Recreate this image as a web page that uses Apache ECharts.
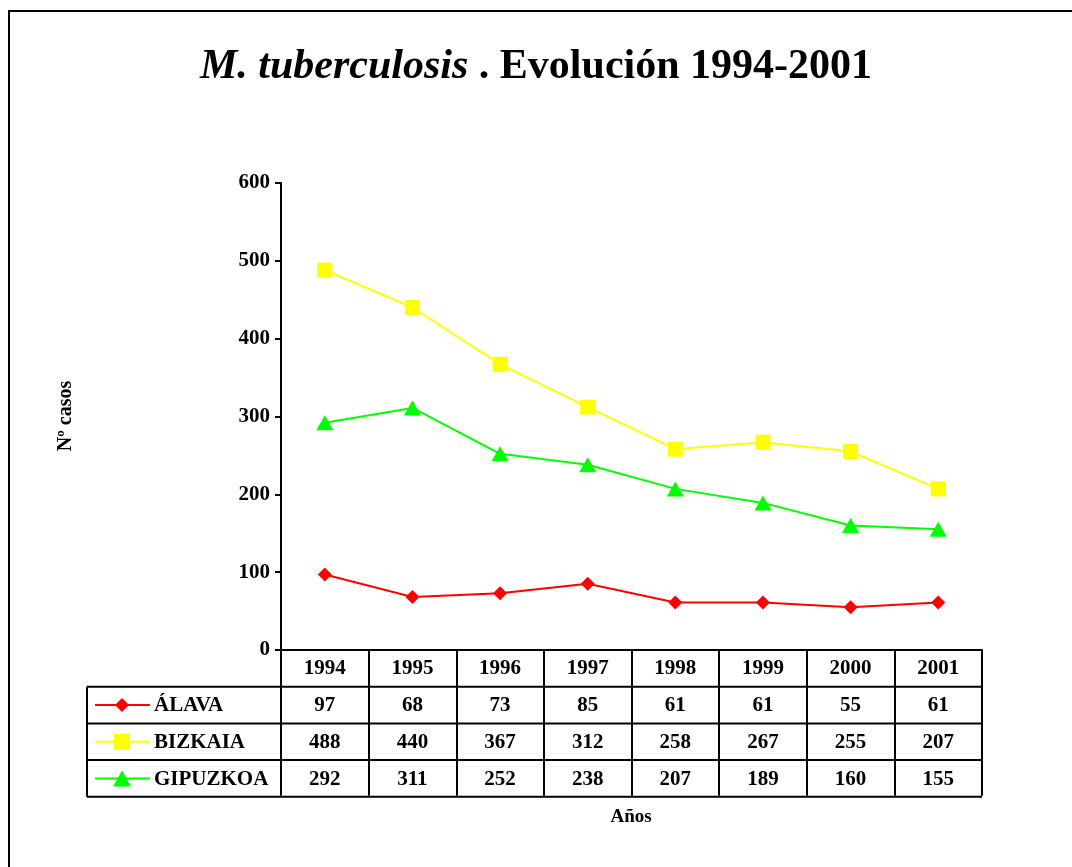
<!DOCTYPE html>
<html>
<head>
<meta charset="utf-8">
<script src="https://cdn.jsdelivr.net/npm/echarts@6/dist/echarts.min.js"></script>
<style>
html, body { margin: 0; padding: 0; background: #fff; }
#main { width: 1072px; height: 867px; }
</style>
</head>
<body>
<div id="main"></div>
<script>
const years = ['1994', '1995', '1996', '1997', '1998', '1999', '2000', '2001']
const alava = [97, 68, 73, 85, 61, 61, 55, 61]
const bizkaia = [488, 440, 367, 312, 258, 267, 255, 207]
const gipuzkoa = [292, 311, 252, 238, 207, 189, 160, 155]
const yMin = 0
const yMax = 600
const yStep = 100

const FONT = 'Liberation Serif'
const rows = [
  { name: 'ÁLAVA', data: alava, color: '#ff0000', symbol: 'diamond', size: [14, 14] },
  { name: 'BIZKAIA', data: bizkaia, color: '#ffff00', symbol: 'rect', size: [15, 15] },
  { name: 'GIPUZKOA', data: gipuzkoa, color: '#00ff00', symbol: 'triangle', size: [17, 15] }
]

const gridLeft = 281
const gridRight = 90
const gridTop = 183
const gridBottom = 217
const tableLeft = 87
const rowH = 36.7

const chart = echarts.init(document.getElementById('main'))
chart.setOption({
  animation: false,
  title: {
    left: 'center',
    top: 41,
    text: '{i|M. tuberculosis}{b| . Evolución 1994-2001}',
    textStyle: {
      rich: {
        i: { fontFamily: FONT, fontStyle: 'italic', fontWeight: 'bold', fontSize: 42, color: '#000' },
        b: { fontFamily: FONT, fontWeight: 'bold', fontSize: 42, color: '#000' }
      }
    }
  },
  grid: { left: gridLeft, right: gridRight, top: gridTop, bottom: gridBottom },
  xAxis: {
    type: 'category',
    data: years,
    axisLine: { lineStyle: { color: '#000', width: 2 } },
    axisTick: { show: true, interval: 0, length: rowH * 4 - 1, lineStyle: { color: '#000', width: 2 } },
    axisLabel: { color: '#000', fontFamily: FONT, fontWeight: 'bold', fontSize: 21, margin: 8, interval: 0 }
  },
  yAxis: {
    type: 'value',
    min: yMin,
    max: yMax,
    interval: yStep,
    axisLine: { show: true, lineStyle: { color: '#000', width: 2 } },
    axisTick: { show: true, length: 6, lineStyle: { color: '#000', width: 2 } },
    splitLine: { show: false },
    axisLabel: { color: '#000', fontFamily: FONT, fontWeight: 'bold', fontSize: 21, margin: 11 }
  },
  series: rows.map(r => ({
    name: r.name,
    type: 'line',
    data: r.data,
    symbol: r.symbol,
    symbolSize: r.size,
    lineStyle: { color: r.color, width: 2 },
    itemStyle: { color: r.color },
    emphasis: { disabled: true }
  }))
})

// data table below the axis
const axisY = chart.convertToPixel({ yAxisIndex: 0 }, yMin)
const xs = years.map((y, i) => chart.convertToPixel({ xAxisIndex: 0 }, i))
const tableRight = 1072 - gridRight
const graphic = []
const line = (x1, y1, x2, y2) => ({
  type: 'line',
  shape: { x1, y1, x2, y2 },
  style: { stroke: '#000', lineWidth: 2 }
})
const txt = (x, y, text, align, size) => ({
  type: 'text',
  x, y,
  style: {
    text,
    font: 'bold ' + (size || 21) + 'px "' + FONT + '"',
    fill: '#000',
    textAlign: align || 'center',
    textVerticalAlign: 'middle'
  }
})
const marker = sym => {
  if (sym === 'diamond') return [[0, -7], [7, 0], [0, 7], [-7, 0]]
  if (sym === 'rect') return [[-8, -8], [8, -8], [8, 8], [-8, 8]]
  return [[0, -8], [9, 8], [-9, 8]]
}

graphic.push({
  type: 'rect',
  shape: { x: 9, y: 11, width: 1100, height: 900 },
  style: { fill: 'none', stroke: '#000', lineWidth: 2 }
})

rows.forEach((r, k) => {
  const top = axisY + rowH * (k + 1)
  const cy = top + rowH / 2
  graphic.push(line(tableLeft, top, tableRight, top))
  graphic.push({
    type: 'line',
    shape: { x1: 95, y1: cy, x2: 150, y2: cy },
    style: { stroke: r.color, lineWidth: 2 }
  })
  graphic.push({
    type: 'polygon',
    x: 122, y: cy,
    shape: { points: marker(r.symbol) },
    style: { fill: r.color }
  })
  graphic.push(txt(154, cy + 1, r.name, 'left', 21))
  r.data.forEach((v, i) => graphic.push(txt(xs[i], cy + 1, String(v))))
})
const bottom = axisY + rowH * 4
graphic.push(line(tableLeft, bottom, tableRight, bottom))
graphic.push(line(tableLeft, axisY + rowH, tableLeft, bottom))

const yName = txt(66, 416, 'Nº casos', 'center', 20)
yName.rotation = Math.PI / 2
graphic.push(yName)
graphic.push(txt(631, 817, 'Años', 'center', 19))

chart.setOption({ graphic })
</script>
</body>
</html>
